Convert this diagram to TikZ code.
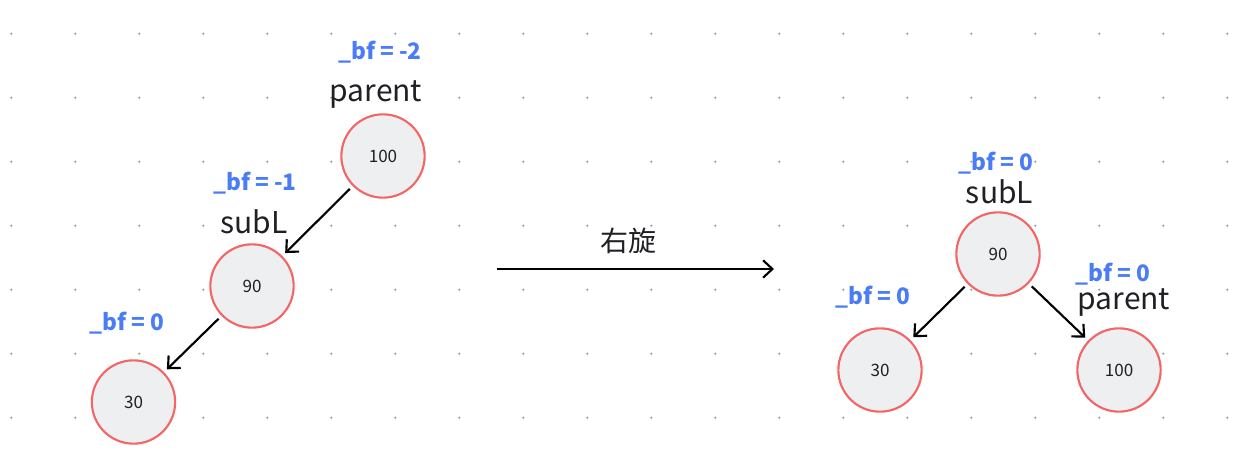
\documentclass[tikz,border=0pt]{standalone}
\usepackage{fontspec}
\setmainfont{Noto Sans CJK SC}
\usetikzlibrary{arrows.meta}
\definecolor{dotgray}{RGB}{150,155,165}
\definecolor{ringred}{RGB}{243,102,102}
\definecolor{fillgray}{RGB}{238,239,241}
\definecolor{bfblue}{RGB}{74,124,246}
\definecolor{txt}{RGB}{30,32,36}
\tikzset{
  treenode/.style={circle, draw=ringred, fill=fillgray, line width=1.6pt, minimum size=62.5pt, inner sep=0pt, font=\fontsize{12.8}{14}\selectfont, text=txt},
  bflabel/.style={font=\bfseries\fontsize{17}{19}\selectfont, text=bfblue, inner sep=0pt},
  namelabel/.style={font=\fontsize{22.5}{24}\selectfont, text=txt, inner sep=0pt},
  link/.style={-{Straight Barb[length=7pt,width=13pt]}, line width=1.6pt, shorten >=3pt, shorten <=3pt},
}
\begin{document}
\begin{tikzpicture}[x=0.75pt,y=-0.75pt]
\useasboundingbox (0,0) rectangle (1245,453);
% dot grid
\foreach \i in {0,...,19}{
  \foreach \j in {0,...,6}{
    \fill[dotgray] (11.3+64*\i,33.7+64*\j) circle (1.2);
  }
}
% left tree
\node[treenode] (p1) at (383,156) {100};
\node[treenode] (s1) at (252,286) {90};
\node[treenode] (c1) at (133.5,402) {30};
\node[bflabel] (bfp1) at (380,52) {\_bf = -2};
\node[namelabel] (np1) at (376,94) {parent};
\node[bflabel] (bfs1) at (255,183) {\_bf = -1};
\node[namelabel] (ns1) at (254,222) {subL};
\node[bflabel] (bfc1) at (127,323) {\_bf = 0};
\draw[link] (p1) -- (s1);
\draw[link] (s1) -- (c1);
% rotation arrow
\coordinate (ra) at (497,269);
\coordinate (rb) at (774,269);
\draw[-{Straight Barb[length=7pt,width=13pt]}, line width=1.6pt] (ra) -- (rb);
\node[namelabel, font=\fontsize{21}{23}\selectfont] (rot) at (628,241) {右旋};
% right tree
\node[treenode] (s2) at (998,254) {90};
\node[treenode] (c2) at (880,370) {30};
\node[treenode] (p2) at (1119,370) {100};
\node[bflabel] (bfs2) at (996,163) {\_bf = 0};
\node[namelabel] (ns2) at (999.5,192) {subL};
\node[bflabel] (bfc2) at (873,297) {\_bf = 0};
\node[bflabel] (bfp2) at (1113,274) {\_bf = 0};
\node[namelabel] (np2) at (1124,302) {parent};
\draw[link] (s2) -- (c2);
\draw[link] (s2) -- (p2);
\end{tikzpicture}
\end{document}
